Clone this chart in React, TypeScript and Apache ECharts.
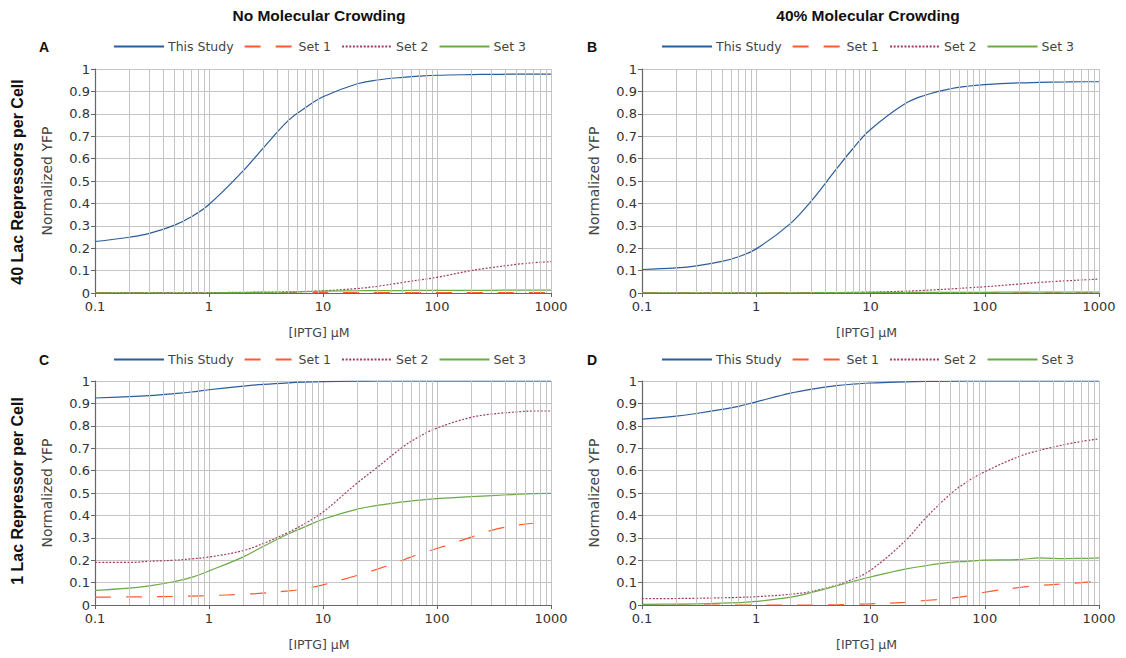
import React, { useEffect, useRef } from "react";
import * as echarts from "echarts";

// IPTG concentrations (µM)
const X = [0.1, 0.2, 0.3, 0.5, 0.7, 1, 2, 3, 5, 7, 10, 20, 30, 50, 70, 100, 200, 300, 500, 700, 1000];
const MINOR = [0.2, 0.3, 0.4, 0.5, 0.6, 0.7, 0.8, 0.9, 2, 3, 4, 5, 6, 7, 8, 9, 20, 30, 40, 50, 60, 70, 80, 90, 200, 300, 400, 500, 600, 700, 800, 900];
const SERIES_NAMES = ["This Study", "Set 1", "Set 2", "Set 3"];
const COL_TITLES = ["No Molecular Crowding", "40% Molecular Crowding"];
const ROW_TITLES = ["40 Lac Repressors per Cell", "1 Lac Repressor per Cell"];
const PANEL_LETTERS = ["A", "B", "C", "D"];

// Panel A
const A_study = [0.23, 0.249, 0.266, 0.303, 0.34, 0.395, 0.546, 0.648, 0.772, 0.827, 0.876, 0.934, 0.951, 0.963, 0.968, 0.972, 0.975, 0.976, 0.977, 0.977, 0.977];
const A_set1 = [0.001, 0.001, 0.001, 0.001, 0.001, 0.001, 0.001, 0.001, 0.002, 0.002, 0.002, 0.002, 0.002, 0.002, 0.002, 0.002, 0.002, 0.002, 0.002, 0.002, 0.002];
const A_set2 = [0.002, 0.002, 0.002, 0.002, 0.002, 0.002, 0.003, 0.004, 0.005, 0.007, 0.01, 0.02, 0.03, 0.047, 0.058, 0.07, 0.1, 0.113, 0.128, 0.135, 0.14];
const A_set3 = [0.001, 0.001, 0.001, 0.001, 0.001, 0.001, 0.002, 0.003, 0.004, 0.006, 0.008, 0.01, 0.011, 0.011, 0.012, 0.012, 0.012, 0.012, 0.013, 0.013, 0.013];
// Panel B
const B_study = [0.105, 0.112, 0.121, 0.141, 0.162, 0.197, 0.311, 0.408, 0.552, 0.644, 0.73, 0.845, 0.883, 0.912, 0.923, 0.93, 0.938, 0.94, 0.942, 0.943, 0.943];
const B_set1 = [0.001, 0.001, 0.001, 0.001, 0.001, 0.001, 0.001, 0.001, 0.001, 0.001, 0.002, 0.002, 0.002, 0.002, 0.002, 0.002, 0.002, 0.002, 0.002, 0.002, 0.002];
const B_set2 = [0.001, 0.001, 0.001, 0.001, 0.001, 0.001, 0.001, 0.002, 0.002, 0.003, 0.004, 0.008, 0.012, 0.018, 0.023, 0.028, 0.04, 0.047, 0.054, 0.058, 0.062];
const B_set3 = [0.001, 0.001, 0.001, 0.001, 0.001, 0.001, 0.001, 0.001, 0.002, 0.002, 0.003, 0.003, 0.003, 0.003, 0.003, 0.003, 0.004, 0.004, 0.004, 0.004, 0.004];
// Panel C
const C_study = [0.924, 0.93, 0.935, 0.944, 0.951, 0.961, 0.977, 0.985, 0.992, 0.995, 0.997, 0.999, 1, 1, 1, 1, 1, 1, 1, 1, 1];
const C_set1 = [0.035, 0.036, 0.037, 0.038, 0.04, 0.042, 0.048, 0.053, 0.063, 0.073, 0.09, 0.132, 0.16, 0.2, 0.228, 0.252, 0.303, 0.333, 0.356, 0.365, null];
const C_set2 = [0.19, 0.19, 0.195, 0.2, 0.206, 0.214, 0.243, 0.275, 0.325, 0.365, 0.415, 0.545, 0.615, 0.705, 0.752, 0.79, 0.838, 0.852, 0.862, 0.866, 0.866];
const C_set3 = [0.065, 0.075, 0.085, 0.105, 0.123, 0.152, 0.215, 0.262, 0.318, 0.35, 0.383, 0.428, 0.445, 0.46, 0.468, 0.475, 0.484, 0.488, 0.494, 0.497, 0.498];
// Panel D
const D_study = [0.83, 0.843, 0.855, 0.873, 0.887, 0.907, 0.946, 0.963, 0.979, 0.986, 0.991, 0.996, 0.998, 0.999, 1, 1, 1, 1, 1, 1, 1];
const D_set1 = [0, 0, 0, 0, 0, 0, 0, 0, 0.001, 0.003, 0.005, 0.012, 0.02, 0.03, 0.04, 0.057, 0.078, 0.087, 0.095, 0.1, 0.107];
const D_set2 = [0.028, 0.029, 0.03, 0.032, 0.034, 0.037, 0.048, 0.06, 0.088, 0.115, 0.155, 0.285, 0.385, 0.495, 0.55, 0.595, 0.663, 0.69, 0.716, 0.73, 0.742];
const D_set3 = [0.003, 0.004, 0.005, 0.008, 0.011, 0.016, 0.035, 0.055, 0.085, 0.105, 0.125, 0.16, 0.175, 0.19, 0.195, 0.2, 0.203, 0.21, 0.207, 0.208, 0.21];

const PANELS = [
  [A_study, A_set1, A_set2, A_set3],
  [B_study, B_set1, B_set2, B_set3],
  [C_study, C_set1, C_set2, C_set3],
  [D_study, D_set1, D_set2, D_set3],
];

const COLORS = ["#2b5c9b", "#ff5b2e", "#a23c5e", "#6aab45"];
const LINE_TYPES: any[] = ["solid", [16, 15], [2, 1.6], "solid"];

const FONT = "DejaVu Sans";
const BOLD_FONT = "Liberation Sans";

const GRIDS = [
  { left: 95, top: 69, width: 456, height: 224 },
  { left: 642, top: 69, width: 457, height: 224 },
  { left: 95, top: 381, width: 456, height: 224 },
  { left: 642, top: 381, width: 457, height: 224 },
];

const fmtNum = (v: number) => String(Number(Number(v).toPrecision(6)));

export default function App() {
  const ref = useRef<HTMLDivElement>(null);
  useEffect(() => {
    if (!ref.current) return;
    const chart = echarts.init(ref.current, undefined, { renderer: "svg" });

    const xAxis = GRIDS.map((_, i) => ({
      type: "log",
      logBase: 10,
      min: 0.1,
      max: 1000,
      gridIndex: i,
      name: "[IPTG] µM",
      nameLocation: "middle",
      nameGap: 33,
      nameTextStyle: { fontFamily: FONT, fontSize: 12.5, color: "#444", padding: [0, 8, 0, 0] },
      axisLine: { show: true, lineStyle: { color: "#666", width: 1.2 } },
      axisTick: { show: true, length: 4, lineStyle: { color: "#666" } },
      axisLabel: { fontFamily: FONT, fontSize: 13, color: "#333", margin: 7, formatter: fmtNum },
      splitLine: { show: true, lineStyle: { color: "#c4c4c4", width: 1 } },
    }));
    const yAxis = GRIDS.map((_, i) => ({
      type: "value",
      min: 0,
      max: 1,
      interval: 0.1,
      gridIndex: i,
      name: "Normalized YFP",
      nameLocation: "middle",
      nameGap: 41,
      nameTextStyle: { fontFamily: FONT, fontSize: 14, color: "#444" },
      axisLine: { show: true, lineStyle: { color: "#666", width: 1.2 } },
      axisTick: { show: true, length: 4, lineStyle: { color: "#666" } },
      axisLabel: { fontFamily: FONT, fontSize: 13, color: "#333", margin: 5, formatter: fmtNum },
      splitLine: { show: true, lineStyle: { color: "#c4c4c4", width: 1 } },
    }));

    const series: any[] = [];
    PANELS.forEach((panel, pi) => {
      series.push({
        name: "_grid",
        type: "line",
        xAxisIndex: pi,
        yAxisIndex: pi,
        data: [[0.1, 0], [1000, 0]],
        symbol: "none",
        silent: true,
        z: 1,
        lineStyle: { opacity: 0 },
        markLine: {
          silent: true,
          symbol: ["none", "none"],
          label: { show: false },
          lineStyle: { color: "#c4c4c4", width: 1, type: "solid" },
          data: MINOR.map((v) => ({ xAxis: v })),
        },
      });
      panel.forEach((vals, si) => {
        series.push({
          name: SERIES_NAMES[si],
          type: "line",
          xAxisIndex: pi,
          yAxisIndex: pi,
          smooth: 0.4,
          symbol: "none",
          showSymbol: false,
          z: 3 + (si === 0 ? 1 : 0),
          color: COLORS[si],
          itemStyle: { color: COLORS[si], opacity: 0 },
          lineStyle: { color: COLORS[si], width: 1.2, type: LINE_TYPES[si] },
          data: X.map((x, k) => [x, vals[k]]),
        });
      });
    });

    const legendLefts = [113, 661, 113, 661];
    const legendTops = [40, 40, 353, 353];
    const legend = legendLefts.map((l, i) => ({
      left: l,
      top: legendTops[i],
      padding: 0,
      data: SERIES_NAMES,
      itemWidth: 50,
      itemHeight: 14,
      itemGap: 10,
      selectedMode: false,
      itemStyle: { opacity: 0 },
      textStyle: { fontFamily: FONT, fontSize: 12.5, color: "#444", padding: [0, 0, 0, -1] },
    }));

    const graphic: any[] = [];
    const colCenters = [319, 868];
    COL_TITLES.forEach((t, i) => {
      graphic.push({
        type: "text",
        x: colCenters[i],
        y: 15,
        style: { text: t, font: `bold 15.5px '${BOLD_FONT}'`, fill: "#111", align: "center", verticalAlign: "middle" },
      });
    });
    const rowCenters = [182, 491];
    ROW_TITLES.forEach((t, i) => {
      graphic.push({
        type: "text",
        x: 17,
        y: rowCenters[i],
        rotation: Math.PI / 2,
        style: { text: t, font: `bold 16px '${BOLD_FONT}'`, fill: "#111", align: "center", verticalAlign: "middle" },
      });
    });
    const letterPos = [[44, 47], [592, 47], [44, 360], [592, 360]];
    PANEL_LETTERS.forEach((t, i) => {
      graphic.push({
        type: "text",
        x: letterPos[i][0],
        y: letterPos[i][1],
        style: { text: t, font: `bold 14px '${BOLD_FONT}'`, fill: "#111", align: "center", verticalAlign: "middle" },
      });
    });

    chart.setOption({
      animation: false,
      backgroundColor: "#ffffff",
      grid: GRIDS.map((g) => ({ ...g, containLabel: false })),
      xAxis,
      yAxis,
      legend,
      series,
      graphic,
    });
    return () => chart.dispose();
  }, []);
  return <div ref={ref} style={{ position: "fixed", left: 0, top: 0, width: 1126, height: 658 }} />;
}
